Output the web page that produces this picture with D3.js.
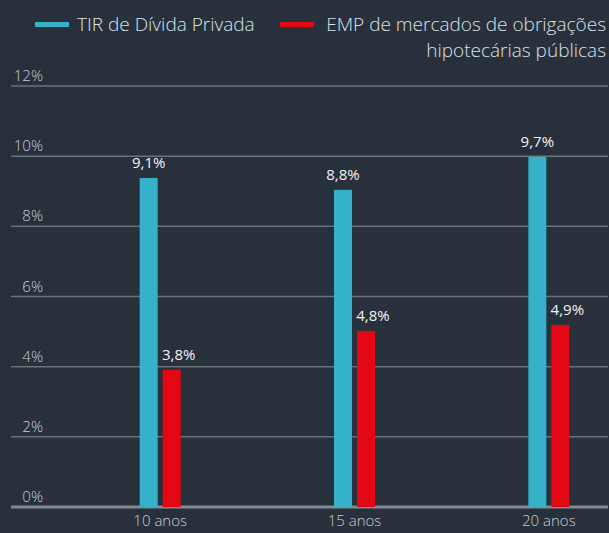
<!DOCTYPE html>
<html>
<head>
<meta charset="utf-8">
<script src="https://cdn.jsdelivr.net/npm/d3@7"></script>
<style>
    html, body { margin: 0; padding: 0; background: #27303b; }
    svg { display: block; font-family: "Open Sans", sans-serif; }
</style>
</head>
<body>
<div id="chart"></div>
<script>

// data
var categories = ["10 anos", "15 anos", "20 anos"];
var seriesNames = ["TIR de Dívida Privada", "EMP de mercados de obrigações hipotecárias públicas"];
var tirValues = [9.38, 9.04, 9.98];      // bar heights as drawn
var empValues = [3.91, 5.02, 5.19];
var tirLabels = ["9,1%", "8,8%", "9,7%"];  // labels as printed
var empLabels = ["3,8%", "4,8%", "4,9%"];
var yTicks = [0, 2, 4, 6, 8, 10, 12];

var colors = ["#35b1ca", "#e30613"];

var width = 609, height = 533;

function init() {

    var svg = d3.select("#chart").append("svg")
        .attr("width", width)
        .attr("height", height);

    svg.append("rect")
        .attr("width", width)
        .attr("height", height)
        .attr("fill", "#27303b");

    var y = d3.scaleLinear()
        .domain([0, 12])
        .range([507, 86]);

    var x0 = d3.scaleBand()  // groups
        .domain(categories)
        .range([63, 646]);

    var x1 = d3.scaleBand()  // bars inside group
        .domain([0, 1])
        .range([0, 41])
        .paddingInner(5 / 23);

    // grid lines
    svg.selectAll(".grid")
        .data(yTicks)
        .join("line")
        .attr("class", "grid")
        .attr("x1", 11)
        .attr("x2", 608)
        .attr("y1", d => y(d))
        .attr("y2", d => y(d))
        .attr("stroke", d => d == 0 ? "#7f8a94" : "#69737d")
        .attr("stroke-width", d => d == 0 ? 3 : 1.5);

    svg.selectAll(".ytick")
        .data(yTicks)
        .join("text")
        .attr("class", "ytick")
        .attr("x", 43)
        .attr("y", d => y(d) - 5)
        .attr("text-anchor", "end")
        .attr("fill", "#c9ced3")
        .attr("font-size", 15)
        .attr("font-weight", 300)
        .text(d => d + "%");

    // bars
    var rows = categories.map((c, i) => ({
        cat: c,
        vals: [
            { s: 0, v: tirValues[i], label: tirLabels[i] },
            { s: 1, v: empValues[i], label: empLabels[i] }
        ]
    }));

    var groups = svg.selectAll(".group")
        .data(rows)
        .join("g")
        .attr("class", "group")
        .attr("transform", d => "translate(" + (x0(d.cat) + x0.bandwidth() / 2 - 20.5) + ",0)");

    groups.selectAll("rect")
        .data(d => d.vals)
        .join("rect")
        .attr("x", d => x1(d.s))
        .attr("y", d => y(d.v))
        .attr("width", x1.bandwidth())
        .attr("height", d => y(0) - y(d.v))
        .attr("fill", d => colors[d.s]);

    groups.selectAll(".vlabel")
        .data(d => d.vals)
        .join("text")
        .attr("class", "vlabel")
        .attr("x", d => x1(d.s) + x1.bandwidth() / 2 + (d.s == 1 ? 7 : 0))
        .attr("y", d => y(d.v) - 10)
        .attr("text-anchor", "middle")
        .attr("fill", "#f2f3f5")
        .attr("font-size", 15)
        .text(d => d.label);

    // x axis labels
    var xAxis = d3.axisBottom(x0).tickSize(0).tickPadding(0);
    var gx = svg.append("g")
        .attr("transform", "translate(0,515)")
        .call(xAxis);
    gx.select(".domain").remove();
    gx.selectAll("text")
        .attr("fill", "#c9ced3")
        .attr("font-size", 15)
        .attr("font-weight", 300)
        .attr("font-family", "Open Sans, sans-serif");

    // legend
    var legend = svg.append("g").attr("class", "legend");

    legend.append("rect")
        .attr("x", 35).attr("y", 22)
        .attr("width", 34).attr("height", 5)
        .attr("fill", colors[0]);
    legend.append("text")
        .attr("x", 77).attr("y", 31)
        .attr("fill", "#dde1e5")
        .attr("font-size", 19)
        .attr("font-weight", 300)
        .text(seriesNames[0]);

    legend.append("rect")
        .attr("x", 280).attr("y", 22)
        .attr("width", 34).attr("height", 5)
        .attr("fill", colors[1]);
    var t2 = legend.append("text")
        .attr("fill", "#dde1e5")
        .attr("font-size", 19)
        .attr("font-weight", 300)
        .attr("text-anchor", "end");
    t2.append("tspan").attr("x", 606).attr("y", 31).text("EMP de mercados de obrigações");
    t2.append("tspan").attr("x", 606).attr("y", 57).text("hipotecárias públicas");
}

window.onload = init;
</script>
</body>
</html>
